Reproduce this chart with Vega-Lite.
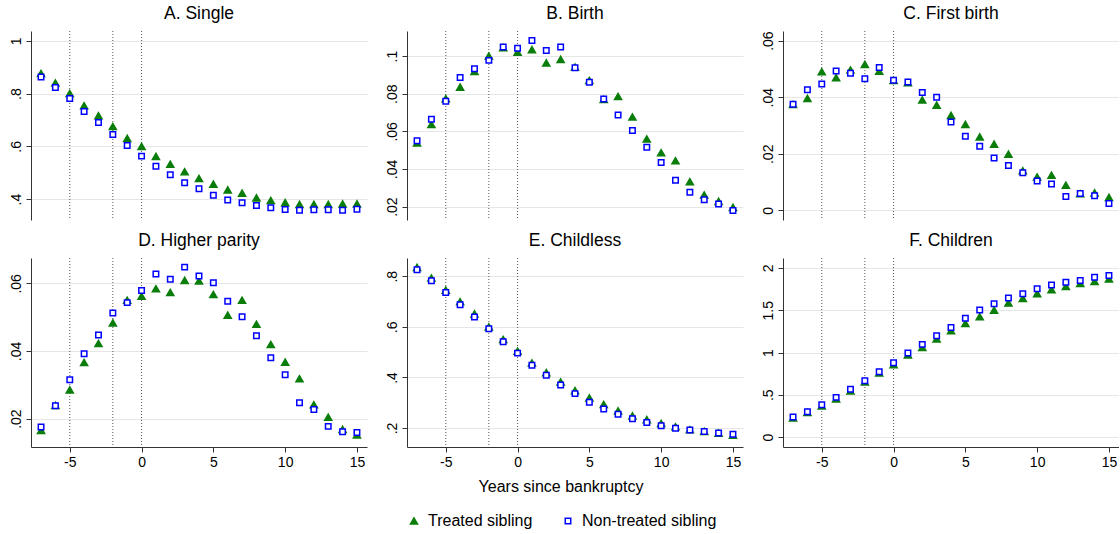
{
  "$schema": "https://vega.github.io/schema/vega-lite/v6.json",
  "background": "white",
  "padding": {"left": 9, "top": 5, "right": 0, "bottom": 5},
  "datasets": {
    "rules": [{"x": -5}, {"x": -2}, {"x": 0}],
    "pts": [
      {"p":"A","x":-7,"g":"T","v":0.876},{"p":"A","x":-6,"g":"T","v":0.84},{"p":"A","x":-5,"g":"T","v":0.8},{"p":"A","x":-4,"g":"T","v":0.754},{"p":"A","x":-3,"g":"T","v":0.716},{"p":"A","x":-2,"g":"T","v":0.675},{"p":"A","x":-1,"g":"T","v":0.63},{"p":"A","x":0,"g":"T","v":0.6},{"p":"A","x":1,"g":"T","v":0.562},{"p":"A","x":2,"g":"T","v":0.532},{"p":"A","x":3,"g":"T","v":0.504},{"p":"A","x":4,"g":"T","v":0.478},{"p":"A","x":5,"g":"T","v":0.457},{"p":"A","x":6,"g":"T","v":0.435},{"p":"A","x":7,"g":"T","v":0.423},{"p":"A","x":8,"g":"T","v":0.405},{"p":"A","x":9,"g":"T","v":0.395},{"p":"A","x":10,"g":"T","v":0.387},{"p":"A","x":11,"g":"T","v":0.38},{"p":"A","x":12,"g":"T","v":0.38},{"p":"A","x":13,"g":"T","v":0.38},{"p":"A","x":14,"g":"T","v":0.382},{"p":"A","x":15,"g":"T","v":0.382},
      {"p":"A","x":-7,"g":"N","v":0.863},{"p":"A","x":-6,"g":"N","v":0.823},{"p":"A","x":-5,"g":"N","v":0.781},{"p":"A","x":-4,"g":"N","v":0.732},{"p":"A","x":-3,"g":"N","v":0.69},{"p":"A","x":-2,"g":"N","v":0.645},{"p":"A","x":-1,"g":"N","v":0.603},{"p":"A","x":0,"g":"N","v":0.563},{"p":"A","x":1,"g":"N","v":0.525},{"p":"A","x":2,"g":"N","v":0.492},{"p":"A","x":3,"g":"N","v":0.462},{"p":"A","x":4,"g":"N","v":0.439},{"p":"A","x":5,"g":"N","v":0.415},{"p":"A","x":6,"g":"N","v":0.397},{"p":"A","x":7,"g":"N","v":0.386},{"p":"A","x":8,"g":"N","v":0.376},{"p":"A","x":9,"g":"N","v":0.367},{"p":"A","x":10,"g":"N","v":0.361},{"p":"A","x":11,"g":"N","v":0.358},{"p":"A","x":12,"g":"N","v":0.36},{"p":"A","x":13,"g":"N","v":0.36},{"p":"A","x":14,"g":"N","v":0.358},{"p":"A","x":15,"g":"N","v":0.362},
      {"p":"B","x":-7,"g":"T","v":0.0538},{"p":"B","x":-6,"g":"T","v":0.0636},{"p":"B","x":-5,"g":"T","v":0.0774},{"p":"B","x":-4,"g":"T","v":0.0835},{"p":"B","x":-3,"g":"T","v":0.0918},{"p":"B","x":-2,"g":"T","v":0.1},{"p":"B","x":-1,"g":"T","v":0.1044},{"p":"B","x":0,"g":"T","v":0.1021},{"p":"B","x":1,"g":"T","v":0.1034},{"p":"B","x":2,"g":"T","v":0.0964},{"p":"B","x":3,"g":"T","v":0.0982},{"p":"B","x":4,"g":"T","v":0.0941},{"p":"B","x":5,"g":"T","v":0.087},{"p":"B","x":6,"g":"T","v":0.0769},{"p":"B","x":7,"g":"T","v":0.0785},{"p":"B","x":8,"g":"T","v":0.0676},{"p":"B","x":9,"g":"T","v":0.0559},{"p":"B","x":10,"g":"T","v":0.0486},{"p":"B","x":11,"g":"T","v":0.0444},{"p":"B","x":12,"g":"T","v":0.0332},{"p":"B","x":13,"g":"T","v":0.0262},{"p":"B","x":14,"g":"T","v":0.0228},{"p":"B","x":15,"g":"T","v":0.0196},
      {"p":"B","x":-7,"g":"N","v":0.055},{"p":"B","x":-6,"g":"N","v":0.0664},{"p":"B","x":-5,"g":"N","v":0.076},{"p":"B","x":-4,"g":"N","v":0.0886},{"p":"B","x":-3,"g":"N","v":0.0932},{"p":"B","x":-2,"g":"N","v":0.0977},{"p":"B","x":-1,"g":"N","v":0.1048},{"p":"B","x":0,"g":"N","v":0.1041},{"p":"B","x":1,"g":"N","v":0.1082},{"p":"B","x":2,"g":"N","v":0.103},{"p":"B","x":3,"g":"N","v":0.1048},{"p":"B","x":4,"g":"N","v":0.0938},{"p":"B","x":5,"g":"N","v":0.0861},{"p":"B","x":6,"g":"N","v":0.0772},{"p":"B","x":7,"g":"N","v":0.0687},{"p":"B","x":8,"g":"N","v":0.0604},{"p":"B","x":9,"g":"N","v":0.0516},{"p":"B","x":10,"g":"N","v":0.0435},{"p":"B","x":11,"g":"N","v":0.034},{"p":"B","x":12,"g":"N","v":0.0276},{"p":"B","x":13,"g":"N","v":0.0237},{"p":"B","x":14,"g":"N","v":0.0214},{"p":"B","x":15,"g":"N","v":0.018},
      {"p":"C","x":-7,"g":"T","v":0.0374},{"p":"C","x":-6,"g":"T","v":0.0396},{"p":"C","x":-5,"g":"T","v":0.049},{"p":"C","x":-4,"g":"T","v":0.0469},{"p":"C","x":-3,"g":"T","v":0.0496},{"p":"C","x":-2,"g":"T","v":0.0516},{"p":"C","x":-1,"g":"T","v":0.0492},{"p":"C","x":0,"g":"T","v":0.0459},{"p":"C","x":1,"g":"T","v":0.0451},{"p":"C","x":2,"g":"T","v":0.039},{"p":"C","x":3,"g":"T","v":0.0372},{"p":"C","x":4,"g":"T","v":0.0336},{"p":"C","x":5,"g":"T","v":0.0304},{"p":"C","x":6,"g":"T","v":0.026},{"p":"C","x":7,"g":"T","v":0.0234},{"p":"C","x":8,"g":"T","v":0.0199},{"p":"C","x":9,"g":"T","v":0.014},{"p":"C","x":10,"g":"T","v":0.0118},{"p":"C","x":11,"g":"T","v":0.0124},{"p":"C","x":12,"g":"T","v":0.0089},{"p":"C","x":13,"g":"T","v":0.0059},{"p":"C","x":14,"g":"T","v":0.0062},{"p":"C","x":15,"g":"T","v":0.0046},
      {"p":"C","x":-7,"g":"N","v":0.0375},{"p":"C","x":-6,"g":"N","v":0.0426},{"p":"C","x":-5,"g":"N","v":0.0447},{"p":"C","x":-4,"g":"N","v":0.0493},{"p":"C","x":-3,"g":"N","v":0.0485},{"p":"C","x":-2,"g":"N","v":0.0465},{"p":"C","x":-1,"g":"N","v":0.0505},{"p":"C","x":0,"g":"N","v":0.046},{"p":"C","x":1,"g":"N","v":0.0454},{"p":"C","x":2,"g":"N","v":0.0417},{"p":"C","x":3,"g":"N","v":0.04},{"p":"C","x":4,"g":"N","v":0.0312},{"p":"C","x":5,"g":"N","v":0.0262},{"p":"C","x":6,"g":"N","v":0.0227},{"p":"C","x":7,"g":"N","v":0.0185},{"p":"C","x":8,"g":"N","v":0.0159},{"p":"C","x":9,"g":"N","v":0.0133},{"p":"C","x":10,"g":"N","v":0.0104},{"p":"C","x":11,"g":"N","v":0.0093},{"p":"C","x":12,"g":"N","v":0.0049},{"p":"C","x":13,"g":"N","v":0.006},{"p":"C","x":14,"g":"N","v":0.0052},{"p":"C","x":15,"g":"N","v":0.0024},
      {"p":"D","x":-7,"g":"T","v":0.0165},{"p":"D","x":-6,"g":"T","v":0.0239},{"p":"D","x":-5,"g":"T","v":0.0285},{"p":"D","x":-4,"g":"T","v":0.0366},{"p":"D","x":-3,"g":"T","v":0.0422},{"p":"D","x":-2,"g":"T","v":0.0483},{"p":"D","x":-1,"g":"T","v":0.055},{"p":"D","x":0,"g":"T","v":0.0562},{"p":"D","x":1,"g":"T","v":0.0584},{"p":"D","x":2,"g":"T","v":0.0573},{"p":"D","x":3,"g":"T","v":0.0609},{"p":"D","x":4,"g":"T","v":0.0607},{"p":"D","x":5,"g":"T","v":0.0567},{"p":"D","x":6,"g":"T","v":0.0506},{"p":"D","x":7,"g":"T","v":0.055},{"p":"D","x":8,"g":"T","v":0.0479},{"p":"D","x":9,"g":"T","v":0.0419},{"p":"D","x":10,"g":"T","v":0.0367},{"p":"D","x":11,"g":"T","v":0.0318},{"p":"D","x":12,"g":"T","v":0.0241},{"p":"D","x":13,"g":"T","v":0.0204},{"p":"D","x":14,"g":"T","v":0.0168},{"p":"D","x":15,"g":"T","v":0.0152},
      {"p":"D","x":-7,"g":"N","v":0.0175},{"p":"D","x":-6,"g":"N","v":0.0238},{"p":"D","x":-5,"g":"N","v":0.0315},{"p":"D","x":-4,"g":"N","v":0.0392},{"p":"D","x":-3,"g":"N","v":0.0447},{"p":"D","x":-2,"g":"N","v":0.0512},{"p":"D","x":-1,"g":"N","v":0.0543},{"p":"D","x":0,"g":"N","v":0.0579},{"p":"D","x":1,"g":"N","v":0.0628},{"p":"D","x":2,"g":"N","v":0.0612},{"p":"D","x":3,"g":"N","v":0.0648},{"p":"D","x":4,"g":"N","v":0.0622},{"p":"D","x":5,"g":"N","v":0.0602},{"p":"D","x":6,"g":"N","v":0.0547},{"p":"D","x":7,"g":"N","v":0.0501},{"p":"D","x":8,"g":"N","v":0.0445},{"p":"D","x":9,"g":"N","v":0.038},{"p":"D","x":10,"g":"N","v":0.033},{"p":"D","x":11,"g":"N","v":0.0247},{"p":"D","x":12,"g":"N","v":0.0227},{"p":"D","x":13,"g":"N","v":0.0177},{"p":"D","x":14,"g":"N","v":0.0161},{"p":"D","x":15,"g":"N","v":0.0159},
      {"p":"E","x":-7,"g":"T","v":0.835},{"p":"E","x":-6,"g":"T","v":0.793},{"p":"E","x":-5,"g":"T","v":0.745},{"p":"E","x":-4,"g":"T","v":0.699},{"p":"E","x":-3,"g":"T","v":0.651},{"p":"E","x":-2,"g":"T","v":0.6},{"p":"E","x":-1,"g":"T","v":0.55},{"p":"E","x":0,"g":"T","v":0.504},{"p":"E","x":1,"g":"T","v":0.457},{"p":"E","x":2,"g":"T","v":0.419},{"p":"E","x":3,"g":"T","v":0.382},{"p":"E","x":4,"g":"T","v":0.348},{"p":"E","x":5,"g":"T","v":0.319},{"p":"E","x":6,"g":"T","v":0.293},{"p":"E","x":7,"g":"T","v":0.268},{"p":"E","x":8,"g":"T","v":0.248},{"p":"E","x":9,"g":"T","v":0.233},{"p":"E","x":10,"g":"T","v":0.218},{"p":"E","x":11,"g":"T","v":0.205},{"p":"E","x":12,"g":"T","v":0.193},{"p":"E","x":13,"g":"T","v":0.187},{"p":"E","x":14,"g":"T","v":0.18},{"p":"E","x":15,"g":"T","v":0.172},
      {"p":"E","x":-7,"g":"N","v":0.826},{"p":"E","x":-6,"g":"N","v":0.782},{"p":"E","x":-5,"g":"N","v":0.736},{"p":"E","x":-4,"g":"N","v":0.687},{"p":"E","x":-3,"g":"N","v":0.639},{"p":"E","x":-2,"g":"N","v":0.592},{"p":"E","x":-1,"g":"N","v":0.541},{"p":"E","x":0,"g":"N","v":0.496},{"p":"E","x":1,"g":"N","v":0.448},{"p":"E","x":2,"g":"N","v":0.409},{"p":"E","x":3,"g":"N","v":0.37},{"p":"E","x":4,"g":"N","v":0.336},{"p":"E","x":5,"g":"N","v":0.302},{"p":"E","x":6,"g":"N","v":0.275},{"p":"E","x":7,"g":"N","v":0.254},{"p":"E","x":8,"g":"N","v":0.237},{"p":"E","x":9,"g":"N","v":0.222},{"p":"E","x":10,"g":"N","v":0.209},{"p":"E","x":11,"g":"N","v":0.199},{"p":"E","x":12,"g":"N","v":0.192},{"p":"E","x":13,"g":"N","v":0.186},{"p":"E","x":14,"g":"N","v":0.18},{"p":"E","x":15,"g":"N","v":0.175},
      {"p":"F","x":-7,"g":"T","v":0.225},{"p":"F","x":-6,"g":"T","v":0.292},{"p":"F","x":-5,"g":"T","v":0.367},{"p":"F","x":-4,"g":"T","v":0.45},{"p":"F","x":-3,"g":"T","v":0.544},{"p":"F","x":-2,"g":"T","v":0.651},{"p":"F","x":-1,"g":"T","v":0.757},{"p":"F","x":0,"g":"T","v":0.856},{"p":"F","x":1,"g":"T","v":0.97},{"p":"F","x":2,"g":"T","v":1.061},{"p":"F","x":3,"g":"T","v":1.159},{"p":"F","x":4,"g":"T","v":1.258},{"p":"F","x":5,"g":"T","v":1.345},{"p":"F","x":6,"g":"T","v":1.423},{"p":"F","x":7,"g":"T","v":1.502},{"p":"F","x":8,"g":"T","v":1.585},{"p":"F","x":9,"g":"T","v":1.64},{"p":"F","x":10,"g":"T","v":1.696},{"p":"F","x":11,"g":"T","v":1.743},{"p":"F","x":12,"g":"T","v":1.782},{"p":"F","x":13,"g":"T","v":1.818},{"p":"F","x":14,"g":"T","v":1.842},{"p":"F","x":15,"g":"T","v":1.869},
      {"p":"F","x":-7,"g":"N","v":0.237},{"p":"F","x":-6,"g":"N","v":0.3},{"p":"F","x":-5,"g":"N","v":0.382},{"p":"F","x":-4,"g":"N","v":0.469},{"p":"F","x":-3,"g":"N","v":0.564},{"p":"F","x":-2,"g":"N","v":0.666},{"p":"F","x":-1,"g":"N","v":0.773},{"p":"F","x":0,"g":"N","v":0.879},{"p":"F","x":1,"g":"N","v":0.994},{"p":"F","x":2,"g":"N","v":1.096},{"p":"F","x":3,"g":"N","v":1.199},{"p":"F","x":4,"g":"N","v":1.297},{"p":"F","x":5,"g":"N","v":1.404},{"p":"F","x":6,"g":"N","v":1.502},{"p":"F","x":7,"g":"N","v":1.577},{"p":"F","x":8,"g":"N","v":1.644},{"p":"F","x":9,"g":"N","v":1.696},{"p":"F","x":10,"g":"N","v":1.755},{"p":"F","x":11,"g":"N","v":1.798},{"p":"F","x":12,"g":"N","v":1.83},{"p":"F","x":13,"g":"N","v":1.853},{"p":"F","x":14,"g":"N","v":1.889},{"p":"F","x":15,"g":"N","v":1.912}
    ]
  },
  "columns": 3,
  "spacing": {"row": 38, "column": 40},
  "bounds": "flush",
  "concat": [
    {
      "width": 336, "height": 189, "title": "A. Single",
      "layer": [
        {"data": {"name": "rules"}, "mark": {"type": "rule", "color": "#555", "strokeDash": [1, 2], "strokeWidth": 1},
         "encoding": {"x": {"field": "x", "type": "quantitative", "scale": {"domain": [-7.7, 15.7], "nice": false, "zero": false}, "axis": null}}},
        {"data": {"name": "pts"}, "transform": [{"filter": "datum.p == 'A'"}],
         "mark": {"type": "point", "filled": true, "opacity": 1, "strokeWidth": 1.5},
         "encoding": {
           "x": {"field": "x", "type": "quantitative", "scale": {"domain": [-7.7, 15.7], "nice": false, "zero": false}, "axis": null},
           "y": {"field": "v", "type": "quantitative", "scale": {"domain": [0.321, 1.037], "nice": false, "zero": false}, "axis": {"values": [0.4, 0.6, 0.8, 1]}},
           "shape": {"field": "g", "type": "nominal", "scale": {"domain": ["T", "N"], "range": ["triangle-up", "square"]},
             "legend": {"orient": "none", "legendX": 375, "legendY": 448, "direction": "horizontal", "title": "Years since bankruptcy", "titleAnchor": "middle", "titlePadding": 18, "labelExpr": "datum.label == 'T' ? 'Treated sibling' : 'Non-treated sibling'"}},
           "fill": {"field": "g", "type": "nominal", "scale": {"domain": ["T", "N"], "range": ["#0a7d0a", "#ffffff"]},
             "legend": {"orient": "none", "legendX": 375, "legendY": 448, "direction": "horizontal", "title": "Years since bankruptcy", "titleAnchor": "middle", "titlePadding": 18, "labelExpr": "datum.label == 'T' ? 'Treated sibling' : 'Non-treated sibling'"}},
           "stroke": {"field": "g", "type": "nominal", "scale": {"domain": ["T", "N"], "range": ["#0a7d0a", "#0000ff"]},
             "legend": {"orient": "none", "legendX": 375, "legendY": 448, "direction": "horizontal", "title": "Years since bankruptcy", "titleAnchor": "middle", "titlePadding": 18, "labelExpr": "datum.label == 'T' ? 'Treated sibling' : 'Non-treated sibling'"}},
           "size": {"field": "g", "type": "nominal", "scale": {"domain": ["T", "N"], "range": [50, 30]},
             "legend": {"orient": "none", "legendX": 375, "legendY": 448, "direction": "horizontal", "title": "Years since bankruptcy", "titleAnchor": "middle", "titlePadding": 18, "labelExpr": "datum.label == 'T' ? 'Treated sibling' : 'Non-treated sibling'"}}
         }}
      ]
    },
    {
      "width": 336, "height": 189, "title": "B. Birth",
      "layer": [
        {"data": {"name": "rules"}, "mark": {"type": "rule", "color": "#555", "strokeDash": [1, 2], "strokeWidth": 1},
         "encoding": {"x": {"field": "x", "type": "quantitative", "scale": {"domain": [-7.7, 15.7], "nice": false, "zero": false}, "axis": null}}},
        {"data": {"name": "pts"}, "transform": [{"filter": "datum.p == 'B'"}],
         "mark": {"type": "point", "filled": true, "opacity": 1, "strokeWidth": 1.5},
         "encoding": {
           "x": {"field": "x", "type": "quantitative", "scale": {"domain": [-7.7, 15.7], "nice": false, "zero": false}, "axis": null},
           "y": {"field": "v", "type": "quantitative", "scale": {"domain": [0.0129, 0.1133], "nice": false, "zero": false}, "axis": {"values": [0.02, 0.04, 0.06, 0.08, 0.1]}},
           "shape": {"field": "g", "type": "nominal", "scale": {"domain": ["T", "N"], "range": ["triangle-up", "square"]}},
           "fill": {"field": "g", "type": "nominal", "scale": {"domain": ["T", "N"], "range": ["#0a7d0a", "#ffffff"]}},
           "stroke": {"field": "g", "type": "nominal", "scale": {"domain": ["T", "N"], "range": ["#0a7d0a", "#0000ff"]}},
           "size": {"field": "g", "type": "nominal", "scale": {"domain": ["T", "N"], "range": [50, 30]}}
         }}
      ]
    },
    {
      "width": 336, "height": 189, "title": "C. First birth",
      "layer": [
        {"data": {"name": "rules"}, "mark": {"type": "rule", "color": "#555", "strokeDash": [1, 2], "strokeWidth": 1},
         "encoding": {"x": {"field": "x", "type": "quantitative", "scale": {"domain": [-7.7, 15.7], "nice": false, "zero": false}, "axis": null}}},
        {"data": {"name": "pts"}, "transform": [{"filter": "datum.p == 'C'"}],
         "mark": {"type": "point", "filled": true, "opacity": 1, "strokeWidth": 1.5},
         "encoding": {
           "x": {"field": "x", "type": "quantitative", "scale": {"domain": [-7.7, 15.7], "nice": false, "zero": false}, "axis": null},
           "y": {"field": "v", "type": "quantitative", "scale": {"domain": [-0.0034, 0.0634], "nice": false, "zero": false}, "axis": {"values": [0, 0.02, 0.04, 0.06]}},
           "shape": {"field": "g", "type": "nominal", "scale": {"domain": ["T", "N"], "range": ["triangle-up", "square"]}},
           "fill": {"field": "g", "type": "nominal", "scale": {"domain": ["T", "N"], "range": ["#0a7d0a", "#ffffff"]}},
           "stroke": {"field": "g", "type": "nominal", "scale": {"domain": ["T", "N"], "range": ["#0a7d0a", "#0000ff"]}},
           "size": {"field": "g", "type": "nominal", "scale": {"domain": ["T", "N"], "range": [50, 30]}}
         }}
      ]
    },
    {
      "width": 336, "height": 189, "title": "D. Higher parity",
      "layer": [
        {"data": {"name": "rules"}, "mark": {"type": "rule", "color": "#555", "strokeDash": [1, 2], "strokeWidth": 1},
         "encoding": {"x": {"field": "x", "type": "quantitative", "scale": {"domain": [-7.7, 15.7], "nice": false, "zero": false}, "axis": {"values": [-5, 0, 5, 10, 15]}}}},
        {"data": {"name": "pts"}, "transform": [{"filter": "datum.p == 'D'"}],
         "mark": {"type": "point", "filled": true, "opacity": 1, "strokeWidth": 1.5},
         "encoding": {
           "x": {"field": "x", "type": "quantitative", "scale": {"domain": [-7.7, 15.7], "nice": false, "zero": false}, "axis": {"values": [-5, 0, 5, 10, 15]}},
           "y": {"field": "v", "type": "quantitative", "scale": {"domain": [0.0116, 0.0675], "nice": false, "zero": false}, "axis": {"values": [0.02, 0.04, 0.06]}},
           "shape": {"field": "g", "type": "nominal", "scale": {"domain": ["T", "N"], "range": ["triangle-up", "square"]}},
           "fill": {"field": "g", "type": "nominal", "scale": {"domain": ["T", "N"], "range": ["#0a7d0a", "#ffffff"]}},
           "stroke": {"field": "g", "type": "nominal", "scale": {"domain": ["T", "N"], "range": ["#0a7d0a", "#0000ff"]}},
           "size": {"field": "g", "type": "nominal", "scale": {"domain": ["T", "N"], "range": [50, 30]}}
         }}
      ]
    },
    {
      "width": 336, "height": 189, "title": "E. Childless",
      "layer": [
        {"data": {"name": "rules"}, "mark": {"type": "rule", "color": "#555", "strokeDash": [1, 2], "strokeWidth": 1},
         "encoding": {"x": {"field": "x", "type": "quantitative", "scale": {"domain": [-7.7, 15.7], "nice": false, "zero": false}, "axis": {"values": [-5, 0, 5, 10, 15]}}}},
        {"data": {"name": "pts"}, "transform": [{"filter": "datum.p == 'E'"}],
         "mark": {"type": "point", "filled": true, "opacity": 1, "strokeWidth": 1.5},
         "encoding": {
           "x": {"field": "x", "type": "quantitative", "scale": {"domain": [-7.7, 15.7], "nice": false, "zero": false}, "axis": {"values": [-5, 0, 5, 10, 15]}},
           "y": {"field": "v", "type": "quantitative", "scale": {"domain": [0.125, 0.872], "nice": false, "zero": false}, "axis": {"values": [0.2, 0.4, 0.6, 0.8]}},
           "shape": {"field": "g", "type": "nominal", "scale": {"domain": ["T", "N"], "range": ["triangle-up", "square"]}},
           "fill": {"field": "g", "type": "nominal", "scale": {"domain": ["T", "N"], "range": ["#0a7d0a", "#ffffff"]}},
           "stroke": {"field": "g", "type": "nominal", "scale": {"domain": ["T", "N"], "range": ["#0a7d0a", "#0000ff"]}},
           "size": {"field": "g", "type": "nominal", "scale": {"domain": ["T", "N"], "range": [50, 30]}}
         }}
      ]
    },
    {
      "width": 336, "height": 189, "title": "F. Children",
      "layer": [
        {"data": {"name": "rules"}, "mark": {"type": "rule", "color": "#555", "strokeDash": [1, 2], "strokeWidth": 1},
         "encoding": {"x": {"field": "x", "type": "quantitative", "scale": {"domain": [-7.7, 15.7], "nice": false, "zero": false}, "axis": {"values": [-5, 0, 5, 10, 15]}}}},
        {"data": {"name": "pts"}, "transform": [{"filter": "datum.p == 'F'"}],
         "mark": {"type": "point", "filled": true, "opacity": 1, "strokeWidth": 1.5},
         "encoding": {
           "x": {"field": "x", "type": "quantitative", "scale": {"domain": [-7.7, 15.7], "nice": false, "zero": false}, "axis": {"values": [-5, 0, 5, 10, 15]}},
           "y": {"field": "v", "type": "quantitative", "scale": {"domain": [-0.118, 2.118], "nice": false, "zero": false}, "axis": {"values": [0, 0.5, 1, 1.5, 2]}},
           "shape": {"field": "g", "type": "nominal", "scale": {"domain": ["T", "N"], "range": ["triangle-up", "square"]}},
           "fill": {"field": "g", "type": "nominal", "scale": {"domain": ["T", "N"], "range": ["#0a7d0a", "#ffffff"]}},
           "stroke": {"field": "g", "type": "nominal", "scale": {"domain": ["T", "N"], "range": ["#0a7d0a", "#0000ff"]}},
           "size": {"field": "g", "type": "nominal", "scale": {"domain": ["T", "N"], "range": [50, 30]}}
         }}
      ]
    }
  ],
  "config": {
    "font": "Liberation Sans",
    "view": {"stroke": null},
    "title": {"fontSize": 17.5, "fontWeight": "normal", "color": "#000", "offset": 8, "font": "Liberation Sans"},
    "axis": {"title": null, "labelFont": "Liberation Sans", "labelFontSize": 14, "labelColor": "#000", "domainColor": "#333", "tickColor": "#333", "tickSize": 5, "labelPadding": 3},
    "axisX": {"grid": false, "labelExpr": "'' + datum.value"},
    "axisY": {"grid": true, "gridColor": "#e6e6e6", "gridWidth": 1, "labelAngle": -90, "labelExpr": "replace(format(datum.value, '~g'), '0.', '.')"},
    "legend": {"titleFontSize": 16, "titleFontWeight": "normal", "titleColor": "#000", "titleFont": "Liberation Sans", "labelFontSize": 16, "labelColor": "#000", "labelFont": "Liberation Sans", "symbolStrokeWidth": 1.5, "columnPadding": 27, "labelOffset": 6, "padding": 0}
  }
}
